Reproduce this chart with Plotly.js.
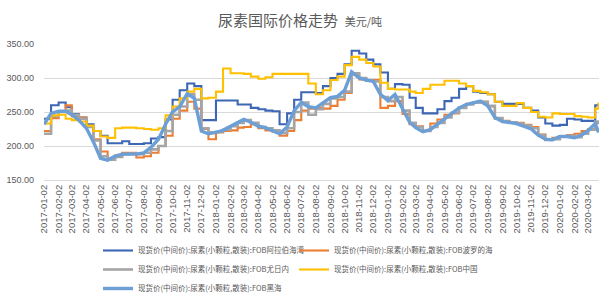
<!DOCTYPE html>
<html>
<head>
<meta charset="utf-8">
<script src="https://cdn.plot.ly/plotly-3.0.1.min.js"></script>
<style>
  html, body { margin: 0; padding: 0; background: #ffffff; }
  #chart { width: 600px; height: 297px; }
</style>
</head>
<body>
<div id="chart"></div>
<script>
// Semi-monthly sampling dates (2nd and 17th of each month), last quote 2020-03-24
const sampleDates = [];
for (let y = 2017; y <= 2020; y++) {
  for (let mo = 1; mo <= 12; mo++) {
    if (y === 2020 && mo > 3) break;
    const mm = String(mo).padStart(2, '0');
    sampleDates.push(`${y}-${mm}-02`, `${y}-${mm}-17`);
  }
}
sampleDates.push('2020-03-24');

// FOB prices, USD/t
const fobArabGulf = [
  240, 260, 264, 257, 247, 242, 232, 222, 215, 204, 204, 207, 203, 203, 204, 211, 213, 239, 268, 282,
  292, 288, 238, 238, 267, 267, 267, 261, 261, 256, 254, 252, 251, 232, 248, 268, 279, 279, 278, 288,
  300, 306, 320, 340, 336, 327, 320, 308, 284, 291, 290, 271, 256, 248, 248, 254, 266, 271, 284,
  288, 280, 278, 276, 265, 262, 262, 262, 256, 252, 242, 233, 230, 231, 240, 239, 237, 237, 260, 262
];
const fobBaltic = [
  222, 241, 250, 260, 244, 242, 228, 210, 192, 182, 186, 190, 190, 183, 185, 190, 200, 215, 240, 252,
  265, 255, 225, 210, 220, 222, 223, 227, 228, 232, 226, 223, 221, 215, 222, 238, 252, 255, 256, 255,
  259, 268, 278, 305, 298, 297, 297, 256, 259, 266, 247, 232, 229, 222, 233, 239, 246, 248, 256,
  262, 264, 265, 258, 240, 237, 235, 234, 231, 228, 217, 210, 212, 214, 216, 218, 222, 225, 234, 232
];
const fobYuzhny = [
  218, 244, 250, 252, 246, 240, 228, 208, 185, 180, 184, 188, 189, 188, 190, 195, 200, 222, 246, 258,
  276, 268, 226, 220, 221, 224, 229, 234, 238, 234, 228, 226, 223, 219, 226, 250, 264, 246, 254, 262,
  270, 272, 280, 307, 300, 296, 295, 272, 266, 272, 252, 234, 228, 222, 228, 234, 242, 249, 256,
  261, 264, 265, 259, 241, 236, 235, 233, 230, 226, 216, 209, 210, 214, 215, 213, 218, 224, 236, 232
];
const fobChina = [
  233, 245, 246, 240, 238, 236, 230, 222, 214, 212, 226, 227, 227, 226, 225, 224, 226, 245, 258, 270,
  280, 284, 270, 271, 280, 314, 307, 307, 306, 302, 299, 301, 306, 306, 306, 306, 306, 292, 276, 282,
  297, 302, 319, 331, 327, 322, 317, 293, 284, 283, 283, 280, 278, 284, 290, 290, 296, 296, 292,
  288, 281, 279, 276, 265, 259, 259, 263, 256, 250, 243, 242, 248, 247, 247, 244, 243, 242, 255, 264
];
const fobBlackSea = [
  232, 248, 251, 251, 246, 238, 226, 206, 182, 179, 185, 188, 188, 188, 190, 198, 210, 232, 250, 258,
  277, 270, 222, 218, 220, 223, 229, 234, 239, 235, 229, 227, 222, 218, 228, 252, 264, 258, 256, 263,
  271, 273, 282, 309, 300, 297, 295, 276, 267, 276, 254, 235, 227, 221, 224, 232, 241, 249, 256,
  261, 264, 266, 259, 242, 236, 235, 233, 229, 225, 216, 210, 209, 214, 214, 212, 216, 223, 233, 220
];

const seriesNames = [
  '现货价(中间价):尿素(小颗粒,散装):FOB阿拉伯海湾',
  '现货价(中间价):尿素(小颗粒,散装):FOB波罗的海',
  '现货价(中间价):尿素(小颗粒,散装):FOB尤日内',
  '现货价(中间价):尿素(小颗粒,散装):FOB中国',
  '现货价(中间价):尿素(小颗粒,散装):FOB黑海'
];
const seriesValues = [fobArabGulf, fobBaltic, fobYuzhny, fobChina, fobBlackSea];
const seriesColors = ['#3D66B4', '#ED7D31', '#A5A5A5', '#FFC000', '#6C9FD6'];
const seriesWidths = [2.1, 2.1, 2.6, 2.1, 3.4];
const seriesShapes = ['hv', 'hv', 'hv', 'hv', 'linear'];
// two-column legend: left column holds series 1, 3, 5; right column holds 2, 4
const seriesLegend = ['legend', 'legend2', 'legend', 'legend2', 'legend'];

const traces = seriesNames.map((name, i) => ({
  type: 'scatter',
  mode: 'lines',
  name: name,
  x: sampleDates,
  y: seriesValues[i],
  legend: seriesLegend[i],
  line: { color: seriesColors[i], width: seriesWidths[i], shape: seriesShapes[i] },
  hoverinfo: 'x+y+name'
}));

const textGrey = '#595959';
const cjk = '"Noto Sans CJK SC", "Noto Sans", sans-serif';
const latin = '"Liberation Sans", Arial, sans-serif';

const legendStyle = (left) => ({
  orientation: 'v',
  xref: 'container',
  yref: 'container',
  x: left / 600,
  xanchor: 'left',
  y: 1 - 236 / 297,
  yanchor: 'top',
  itemwidth: 30,
  tracegroupgap: 0,
  traceorder: 'normal',
  font: { family: cjk, size: 7.5, color: textGrey },
  bgcolor: 'rgba(0,0,0,0)'
});

const layout = {
  width: 600,
  height: 297,
  margin: { l: 44, r: 1, t: 44, b: 117, autoexpand: false },
  paper_bgcolor: '#ffffff',
  plot_bgcolor: '#ffffff',
  title: {
    text: '尿素国际价格走势  <span style="font-size:11px">美元/吨</span>',
    x: 0.5,
    xanchor: 'center',
    xref: 'container',
    y: 0.93,
    yref: 'container',
    yanchor: 'middle',
    font: { family: cjk, size: 15, color: textGrey }
  },
  xaxis: {
    type: 'date',
    range: ['2017-01-02', '2020-03-25'],
    tick0: '2017-01-02',
    dtick: 'M1',
    tickformat: '%Y-%m-%d',
    tickangle: -90,
    tickfont: { family: latin, size: 9.5, color: textGrey },
    showgrid: false,
    showline: true,
    linecolor: '#D9D9D9',
    linewidth: 1,
    ticks: '',
    zeroline: false,
    automargin: false
  },
  yaxis: {
    range: [150, 350],
    dtick: 50,
    tick0: 150,
    tickformat: '.2f',
    tickfont: { family: latin, size: 9, color: textGrey },
    showgrid: true,
    gridcolor: '#D9D9D9',
    gridwidth: 1,
    showline: false,
    zeroline: false,
    ticks: '',
    ticklabelstandoff: 9,
    automargin: false
  },
  showlegend: true,
  legend: legendStyle(98),
  legend2: legendStyle(294)
};

Plotly.newPlot('chart', traces, layout, { displayModeBar: false, staticPlot: true });
</script>
</body>
</html>
